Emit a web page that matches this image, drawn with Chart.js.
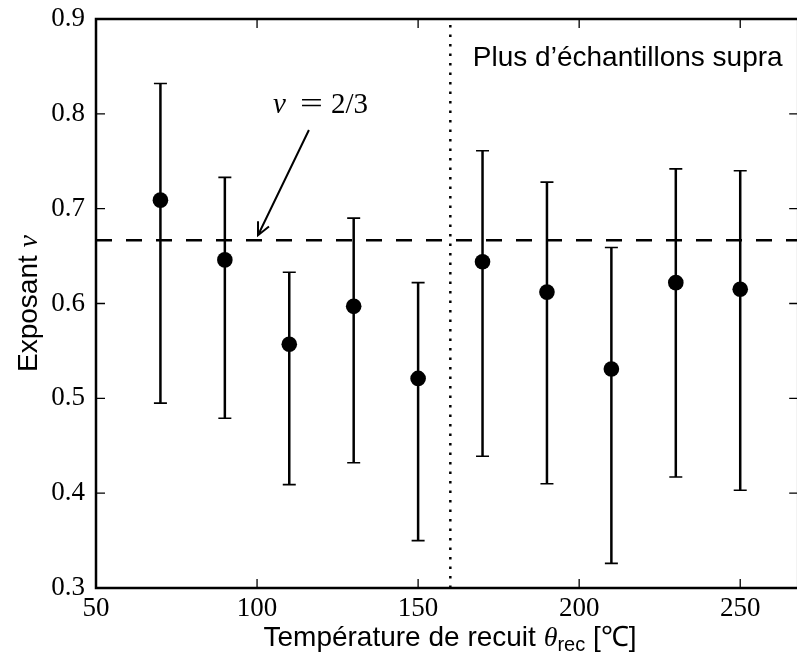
<!DOCTYPE html>
<html>
<head>
<meta charset="utf-8">
<script src="https://cdn.jsdelivr.net/npm/chart.js@4.4.1/dist/chart.umd.min.js"></script>
<style>
  html, body { margin: 0; padding: 0; background: #fff; overflow: hidden; }
  #wrap { width: 797px; height: 657px; overflow: hidden; }
</style>
</head>
<body>
<div id="wrap"><canvas id="chart" width="806" height="657"></canvas></div>
<script>
// temperatures de recuit (°C) et exposant nu mesure, avec barres d'erreur
const temps = [70, 90, 110, 130, 150, 170, 190, 210, 230, 250];
const nu = [0.709, 0.646, 0.557, 0.597, 0.521, 0.644, 0.612, 0.531, 0.622, 0.615];
const nuHigh = [0.832, 0.733, 0.633, 0.690, 0.622, 0.761, 0.728, 0.659, 0.742, 0.740];
const nuLow = [0.495, 0.479, 0.409, 0.432, 0.350, 0.439, 0.410, 0.326, 0.417, 0.403];

const xTicks = [50, 100, 150, 200, 250];
const yTicks = [0.3, 0.4, 0.5, 0.6, 0.7, 0.8, 0.9];

const NU_REF = 2 / 3;
const SPLIT_T = 160;

const SANS = '"Liberation Sans", Arial, sans-serif';
const SERIF = '"Liberation Serif", "DejaVu Serif", serif';

const errorBars = {
    id: 'errorBars',
    beforeDatasetsDraw(chart) {
        const { ctx, scales: { x, y } } = chart;
        ctx.save();
        ctx.strokeStyle = '#000';
        temps.forEach((t, i) => {
            const px = x.getPixelForValue(t);
            const top = y.getPixelForValue(nuHigh[i]);
            const bot = y.getPixelForValue(nuLow[i]);
            ctx.lineWidth = 2.5;
            ctx.beginPath();
            ctx.moveTo(px, top);
            ctx.lineTo(px, bot);
            ctx.stroke();
            ctx.lineWidth = 1.6;
            ctx.beginPath();
            ctx.moveTo(px - 6.5, top);
            ctx.lineTo(px + 6.5, top);
            ctx.moveTo(px - 6.5, bot);
            ctx.lineTo(px + 6.5, bot);
            ctx.stroke();
        });
        ctx.restore();
    }
};

const frame = {
    id: 'frame',
    afterDraw(chart) {
        const { ctx, chartArea: a, scales: { x, y } } = chart;
        ctx.save();
        ctx.strokeStyle = '#000';
        ctx.lineWidth = 1.3;
        ctx.beginPath();
        xTicks.forEach(v => {
            const px = x.getPixelForValue(v);
            ctx.moveTo(px, a.bottom); ctx.lineTo(px, a.bottom - 9);
            ctx.moveTo(px, a.top); ctx.lineTo(px, a.top + 9);
        });
        yTicks.forEach(v => {
            const py = y.getPixelForValue(v);
            ctx.moveTo(a.left, py); ctx.lineTo(a.left + 9, py);
            ctx.moveTo(a.right, py); ctx.lineTo(a.right - 9, py);
        });
        ctx.stroke();
        ctx.lineWidth = 2.5;
        ctx.strokeRect(a.left, a.top, a.right - a.left, a.bottom - a.top);
        ctx.restore();
    }
};

const labels = {
    id: 'labels',
    afterDraw(chart) {
        const { ctx, chartArea: a, scales: { x, y } } = chart;
        ctx.save();
        ctx.fillStyle = '#000';
        ctx.textBaseline = 'alphabetic';

        // titre axe x, polices melangees
        const parts = [
            { t: 'Température de recuit ', f: '28px ' + SANS, dy: 0 },
            { t: 'θ', f: 'italic 28px ' + SERIF, dy: 0 },
            { t: 'rec', f: '20px ' + SANS, dy: 5 },
            { t: ' [℃]', f: '28px ' + SANS, dy: 0 }
        ];
        let w = 0;
        parts.forEach(p => { ctx.font = p.f; p.w = ctx.measureText(p.t).width; w += p.w; });
        let cx = 450 - w / 2;
        parts.forEach(p => { ctx.font = p.f; ctx.fillText(p.t, cx, 646 + p.dy); cx += p.w; });

        // titre axe y
        ctx.save();
        ctx.translate(37, (a.top + a.bottom) / 2);
        ctx.rotate(-Math.PI / 2);
        ctx.font = '28px ' + SANS;
        const w1 = ctx.measureText('Exposant ').width;
        ctx.font = 'italic 28px ' + SERIF;
        const w2 = ctx.measureText('ν').width;
        const sx = -(w1 + w2) / 2;
        ctx.font = '28px ' + SANS;
        ctx.fillText('Exposant ', sx, 0);
        ctx.font = 'italic 28px ' + SERIF;
        ctx.fillText('ν', sx + w1, 0);
        ctx.restore();

        // texte de region
        ctx.font = '28px ' + SANS;
        ctx.textAlign = 'left';
        ctx.fillText('Plus d’échantillons supra', x.getPixelForValue(167), y.getPixelForValue(0.86) + 9);

        // annotation nu = 2/3 avec fleche
        const cxn = x.getPixelForValue(120);
        const ty = y.getPixelForValue(0.81) + 9;
        ctx.textAlign = 'center';
        ctx.font = 'italic 29px ' + SERIF;
        ctx.fillText('ν', cxn - 42, ty);
        ctx.font = '29px ' + SERIF;
        ctx.save();
        ctx.translate(cxn - 10, 0);
        ctx.scale(1.4, 1);
        ctx.fillText('=', 0, ty);
        ctx.restore();
        ctx.fillText('2/3', cxn + 28, ty);

        const x0 = x.getPixelForValue(116.1), y0 = y.getPixelForValue(0.783);
        const x1 = x.getPixelForValue(100.3), y1 = y.getPixelForValue(0.672);
        ctx.strokeStyle = '#000';
        ctx.lineWidth = 2;
        ctx.beginPath();
        ctx.moveTo(x0, y0);
        ctx.lineTo(x1, y1);
        const ang = Math.atan2(y1 - y0, x1 - x0);
        const hl = 14, hw = 0.45;
        ctx.moveTo(x1 - hl * Math.cos(ang - hw), y1 - hl * Math.sin(ang - hw));
        ctx.lineTo(x1, y1);
        ctx.lineTo(x1 - hl * Math.cos(ang + hw), y1 - hl * Math.sin(ang + hw));
        ctx.stroke();
        ctx.restore();
    }
};

new Chart(document.getElementById('chart').getContext('2d'), {
    type: 'scatter',
    data: {
        datasets: [
            {
                type: 'line',
                data: [{ x: 50, y: NU_REF }, { x: 268, y: NU_REF }],
                borderColor: '#000',
                borderWidth: 2.5,
                borderDash: [16, 14],
                pointRadius: 0
            },
            {
                type: 'line',
                data: [{ x: SPLIT_T, y: 0.3 }, { x: SPLIT_T, y: 0.9 }],
                borderColor: '#000',
                borderWidth: 2.5,
                borderDash: [2.5, 7],
                pointRadius: 0
            },
            {
                data: temps.map((t, i) => ({ x: t, y: nu[i] })),
                backgroundColor: '#000',
                borderColor: '#000',
                pointRadius: 7.8,
                pointBorderWidth: 0
            }
        ]
    },
    options: {
        responsive: false,
        animation: false,
        layout: { padding: { top: 19, right: 0, left: 0, bottom: 0 } },
        plugins: { legend: { display: false }, tooltip: { enabled: false } },
        scales: {
            x: {
                type: 'linear',
                min: 50,
                max: 268,
                afterBuildTicks: s => { s.ticks = xTicks.map(v => ({ value: v })); },
                afterFit: s => {
                    s.height = 69;
                    s.paddingLeft = 0; s.paddingRight = 0;
                },
                grid: { display: false, drawTicks: false },
                border: { display: false },
                ticks: {
                    color: '#000',
                    padding: 5,
                    maxRotation: 0,
                    autoSkip: false,
                    font: { family: SERIF, size: 27 }
                }
            },
            y: {
                min: 0.3,
                max: 0.9,
                afterBuildTicks: s => { s.ticks = yTicks.map(v => ({ value: v })); },
                afterFit: s => {
                    s.width = 96;
                    s.paddingTop = 0; s.paddingBottom = 0;
                },
                grid: { display: false, drawTicks: false },
                border: { display: false },
                ticks: {
                    color: '#000',
                    padding: 11,
                    font: { family: SERIF, size: 27 },
                    callback: v => v.toFixed(1)
                }
            }
        }
    },
    plugins: [errorBars, frame, labels]
});
</script>
</body>
</html>
